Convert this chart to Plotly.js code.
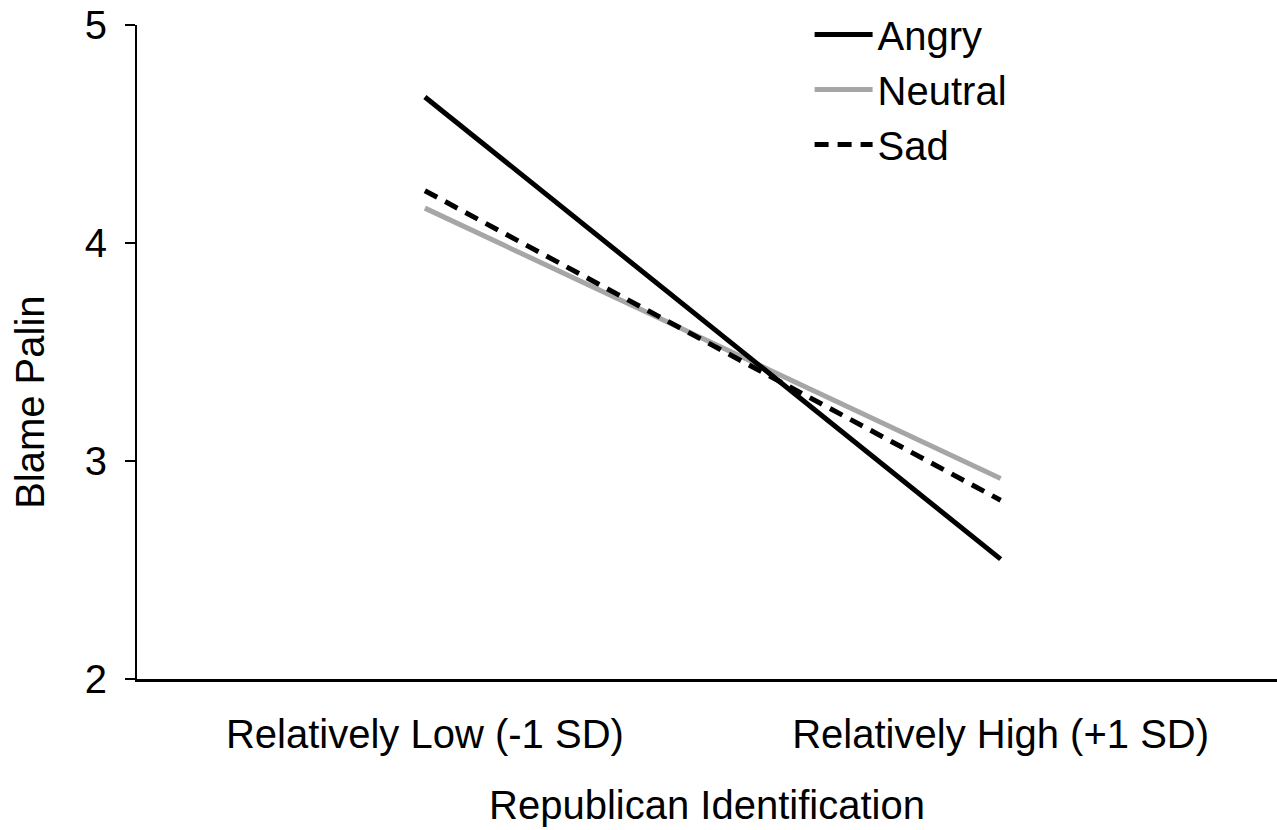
<!DOCTYPE html>
<html>
<head>
<meta charset="utf-8">
<script src="https://cdn.plot.ly/plotly-3.0.1.min.js"></script>
<style>html,body{margin:0;padding:0;background:#fff;}#chart{width:1277px;height:830px;}</style>
</head>
<body>
<div id="chart"></div>
<script>
const categories = ["Relatively Low (-1 SD)", "Relatively High (+1 SD)"];
const angry = [4.67, 2.55];
const neutral = [4.16, 2.92];
const sad = [4.24, 2.82];
const yTicks = [2, 3, 4, 5];

const FONT = "Liberation Sans, Arial, sans-serif";
const FS = 40;

const traces = [
  {x: categories, y: neutral, name: "Neutral", mode: "lines", line: {color: "#a6a6a6", width: 5}, legendrank: 2},
  {x: categories, y: sad, name: "Sad", mode: "lines", line: {color: "#000000", width: 5, dash: "14px,9px"}, legendrank: 3},
  {x: categories, y: angry, name: "Angry", mode: "lines", line: {color: "#000000", width: 5}, legendrank: 1}
];

const layout = {
  width: 1277, height: 830,
  margin: {l: 137, r: 0, t: 25, b: 151},
  paper_bgcolor: "#fff", plot_bgcolor: "#fff",
  font: {family: FONT, color: "#000", size: FS},
  showlegend: true,
  legend: {x: 0.59, y: 1.035, xanchor: "left", yanchor: "top", bgcolor: "rgba(0,0,0,0)",
           font: {family: FONT, size: FS, color: "#000"}, tracegroupgap: 0, itemwidth: 58},
  xaxis: {type: "category", range: [-0.5, 1.48], showgrid: false, zeroline: false,
          showline: true, linecolor: "#000", linewidth: 3, ticks: "",
          tickfont: {family: FONT, size: FS}, ticklabelstandoff: 18,
          title: {text: "Republican Identification", font: {family: FONT, size: FS}, standoff: 36}},
  yaxis: {range: [2, 5], tickvals: yTicks, showgrid: false, zeroline: false,
          showline: true, linecolor: "#000", linewidth: 2, ticks: "outside", ticklen: 10,
          tickwidth: 2, tickcolor: "#000", tickfont: {family: FONT, size: FS}, ticklabelstandoff: 10},
  annotations: [{text: "Blame Palin", textangle: -90, xref: "paper", yref: "paper",
                 x: -0.094, y: 0.4235, xanchor: "center", yanchor: "middle", showarrow: false,
                 font: {family: FONT, size: FS, color: "#000"}}]
};

Plotly.newPlot("chart", traces, layout, {displayModeBar: false, staticPlot: true});
</script>
</body>
</html>
